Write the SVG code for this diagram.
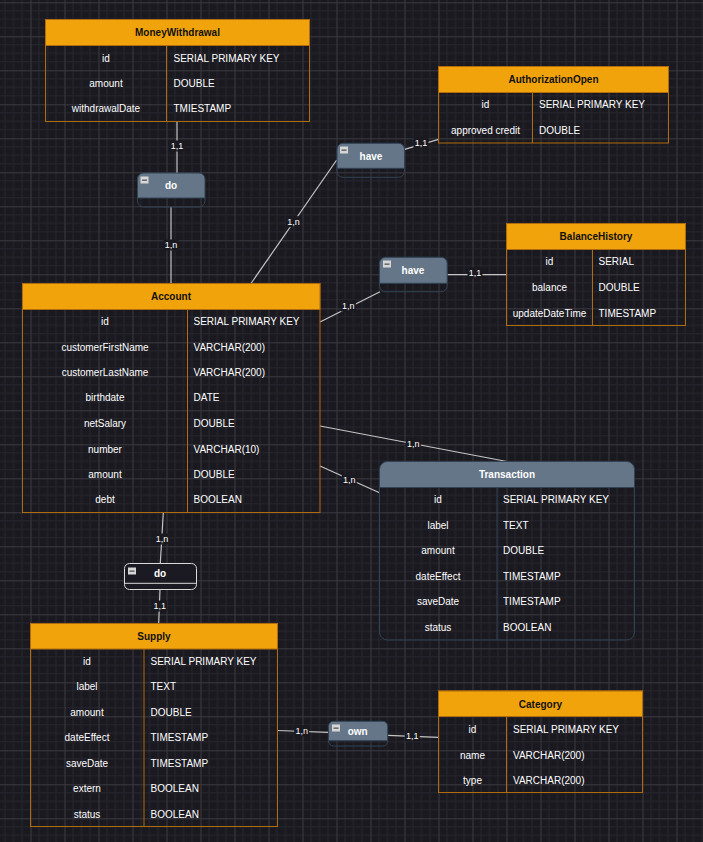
<svg xmlns="http://www.w3.org/2000/svg" width="703" height="842" viewBox="0 0 703 842">
<defs>
<pattern id="grid" x="30.5" y="2.3" width="34" height="34" patternUnits="userSpaceOnUse">
<path d="M8.5 0V34M17 0V34M25.5 0V34M0 8.5H34M0 17H34M0 25.5H34" stroke="#27262e" stroke-width="1" fill="none"/>
<path d="M0.5 0V34M0 0.5H34" stroke="#3b3a41" stroke-width="1" fill="none"/>
</pattern>
<g id="minus"><rect x="0" y="0" width="8" height="7" fill="#d6d6d6"/><rect x="1.5" y="3" width="5" height="1.3" fill="#555"/></g>
</defs>
<style>
text{font-family:"Liberation Sans",Arial,sans-serif;font-size:10px;}
.tb{fill:none;stroke:#b06b0c;stroke-width:1;}
.th{fill:#f0a30a;stroke:#b06b0c;stroke-width:1;}
.ht{font-weight:bold;fill:#111;text-anchor:middle;}
.fn{fill:#fff;text-anchor:middle;}
.ft{fill:#fff;}
.rh{fill:#647687;}
.rb{fill:none;stroke:#314354;stroke-width:1;}
.rt{font-weight:bold;fill:#fff;text-anchor:middle;}
.cn{stroke:#c4c4c4;stroke-width:1.2;fill:none;}
.lb{fill:#1a1920;}
.lt{font-size:9px;fill:#fff;text-anchor:middle;}
</style>
<rect width="703" height="842" fill="#1a1920"/>
<rect width="703" height="842" fill="url(#grid)"/>

<g id="connectors">
<line class="cn" x1="177" y1="122" x2="177" y2="173"/>
<line class="cn" x1="171" y1="207" x2="171" y2="283.5"/>
<line class="cn" x1="404.7" y1="149.3" x2="438.5" y2="139.3"/>
<line class="cn" x1="251" y1="283.5" x2="336.7" y2="160"/>
<line class="cn" x1="447.3" y1="274.7" x2="506.5" y2="274.7"/>
<line class="cn" x1="320" y1="322" x2="380" y2="291.7"/>
<line class="cn" x1="320" y1="426" x2="507" y2="461.5"/>
<line class="cn" x1="320" y1="466" x2="379.5" y2="492.7"/>
<line class="cn" x1="163.3" y1="512.5" x2="160.3" y2="563.3"/>
<line class="cn" x1="160" y1="589.3" x2="158.7" y2="623.5"/>
<line class="cn" x1="277.5" y1="730.5" x2="328.3" y2="732.3"/>
<line class="cn" x1="387.7" y1="735.3" x2="438.5" y2="737.3"/>
<rect class="lb" x="169.5" y="140.5" width="15" height="11"/><text class="lt" x="177" y="149.3">1,1</text>
<rect class="lb" x="163.5" y="239.5" width="15" height="11"/><text class="lt" x="171" y="248.3">1,n</text>
<rect class="lb" x="413.5" y="137.2" width="15" height="11"/><text class="lt" x="421" y="146">1,1</text>
<rect class="lb" x="286" y="216.2" width="15" height="11"/><text class="lt" x="293.5" y="225">1,n</text>
<rect class="lb" x="467.5" y="267.2" width="15" height="11"/><text class="lt" x="475" y="276">1,1</text>
<rect class="lb" x="340.8" y="300.5" width="15" height="11"/><text class="lt" x="348.3" y="309.3">1,n</text>
<rect class="lb" x="405.8" y="438.2" width="15" height="11"/><text class="lt" x="413.3" y="447">1,n</text>
<rect class="lb" x="341.8" y="474.5" width="15" height="11"/><text class="lt" x="349.3" y="483.3">1,n</text>
<rect class="lb" x="154.5" y="533.5" width="15" height="11"/><text class="lt" x="162" y="542.3">1,n</text>
<rect class="lb" x="152.2" y="600.5" width="15" height="11"/><text class="lt" x="159.7" y="609.3">1,1</text>
<rect class="lb" x="294.2" y="725.2" width="15" height="11"/><text class="lt" x="301.7" y="734">1,n</text>
<rect class="lb" x="404.8" y="730.2" width="15" height="11"/><text class="lt" x="412.3" y="739">1,1</text>
</g>

<g id="MoneyWithdrawal">
<rect class="tb" x="45.5" y="19.5" width="264" height="102"/>
<rect class="th" x="45.5" y="19.5" width="264" height="26"/>
<line class="tb" x1="166.5" y1="45.5" x2="166.5" y2="121.5"/>
<text class="ht" x="177.5" y="36">MoneyWithdrawal</text>
<text class="fn" x="106" y="61.5">id</text><text class="ft" x="173.5" y="61.5">SERIAL PRIMARY KEY</text>
<text class="fn" x="106" y="87">amount</text><text class="ft" x="173.5" y="87">DOUBLE</text>
<text class="fn" x="106" y="112.3">withdrawalDate</text><text class="ft" x="173.5" y="112.3">TMIESTAMP</text>
</g>

<g id="AuthorizationOpen">
<rect class="tb" x="438.5" y="66.5" width="230" height="76.5"/>
<rect class="th" x="438.5" y="66.5" width="230" height="26"/>
<line class="tb" x1="532.5" y1="92.5" x2="532.5" y2="143"/>
<text class="ht" x="553.5" y="83">AuthorizationOpen</text>
<text class="fn" x="485.5" y="108">id</text><text class="ft" x="539" y="108">SERIAL PRIMARY KEY</text>
<text class="fn" x="485.5" y="133.6">approved credit</text><text class="ft" x="539" y="133.6">DOUBLE</text>
</g>

<g id="BalanceHistory">
<rect class="tb" x="506.5" y="223.5" width="179" height="102"/>
<rect class="th" x="506.5" y="223.5" width="179" height="26"/>
<line class="tb" x1="592.5" y1="249.5" x2="592.5" y2="325.5"/>
<text class="ht" x="596" y="240">BalanceHistory</text>
<text class="fn" x="549.5" y="265.3">id</text><text class="ft" x="598.5" y="265.3">SERIAL</text>
<text class="fn" x="549.5" y="291">balance</text><text class="ft" x="598.5" y="291">DOUBLE</text>
<text class="fn" x="549.5" y="316.5">updateDateTime</text><text class="ft" x="598.5" y="316.5">TIMESTAMP</text>
</g>

<g id="Account">
<rect class="tb" x="22.5" y="283.5" width="297.5" height="229"/>
<rect class="th" x="22.5" y="283.5" width="297.5" height="26"/>
<line class="tb" x1="187.5" y1="309.5" x2="187.5" y2="512.5"/>
<text class="ht" x="171" y="300">Account</text>
<text class="fn" x="105" y="325.3">id</text><text class="ft" x="193.5" y="325.3">SERIAL PRIMARY KEY</text>
<text class="fn" x="105" y="350.5">customerFirstName</text><text class="ft" x="193.5" y="350.5">VARCHAR(200)</text>
<text class="fn" x="105" y="376">customerLastName</text><text class="ft" x="193.5" y="376">VARCHAR(200)</text>
<text class="fn" x="105" y="401.4">birthdate</text><text class="ft" x="193.5" y="401.4">DATE</text>
<text class="fn" x="105" y="427">netSalary</text><text class="ft" x="193.5" y="427">DOUBLE</text>
<text class="fn" x="105" y="452.5">number</text><text class="ft" x="193.5" y="452.5">VARCHAR(10)</text>
<text class="fn" x="105" y="478">amount</text><text class="ft" x="193.5" y="478">DOUBLE</text>
<text class="fn" x="105" y="503">debt</text><text class="ft" x="193.5" y="503">BOOLEAN</text>
</g>

<g id="Transaction">
<path class="rh" d="M379.5 487.5V469.5a8 8 0 0 1 8-8H626.5a8 8 0 0 1 8 8V487.5Z"/>
<rect class="rb" x="379.5" y="461.5" width="255" height="178.5" rx="8"/>
<line class="rb" x1="379.5" y1="487.5" x2="634.5" y2="487.5"/>
<line class="rb" x1="497" y1="487.5" x2="497" y2="640"/>
<text class="rt" x="507" y="478">Transaction</text>
<text class="fn" x="438" y="503">id</text><text class="ft" x="503" y="503">SERIAL PRIMARY KEY</text>
<text class="fn" x="438" y="529.3">label</text><text class="ft" x="503" y="529.3">TEXT</text>
<text class="fn" x="438" y="554.4">amount</text><text class="ft" x="503" y="554.4">DOUBLE</text>
<text class="fn" x="438" y="580.3">dateEffect</text><text class="ft" x="503" y="580.3">TIMESTAMP</text>
<text class="fn" x="438" y="605.3">saveDate</text><text class="ft" x="503" y="605.3">TIMESTAMP</text>
<text class="fn" x="438" y="631">status</text><text class="ft" x="503" y="631">BOOLEAN</text>
</g>

<g id="Supply">
<rect class="tb" x="30.5" y="623.5" width="247" height="203"/>
<rect class="th" x="30.5" y="623.5" width="247" height="25.5"/>
<line class="tb" x1="144" y1="649" x2="144" y2="826.5"/>
<text class="ht" x="154" y="640">Supply</text>
<text class="fn" x="87" y="665.3">id</text><text class="ft" x="150.5" y="665.3">SERIAL PRIMARY KEY</text>
<text class="fn" x="87" y="690.3">label</text><text class="ft" x="150.5" y="690.3">TEXT</text>
<text class="fn" x="87" y="716.3">amount</text><text class="ft" x="150.5" y="716.3">DOUBLE</text>
<text class="fn" x="87" y="741.3">dateEffect</text><text class="ft" x="150.5" y="741.3">TIMESTAMP</text>
<text class="fn" x="87" y="767.3">saveDate</text><text class="ft" x="150.5" y="767.3">TIMESTAMP</text>
<text class="fn" x="87" y="792.3">extern</text><text class="ft" x="150.5" y="792.3">BOOLEAN</text>
<text class="fn" x="87" y="818">status</text><text class="ft" x="150.5" y="818">BOOLEAN</text>
</g>

<g id="Category">
<rect class="tb" x="438.5" y="691" width="204" height="101.5"/>
<rect class="th" x="438.5" y="691" width="204" height="25.5"/>
<line class="tb" x1="506.5" y1="716.5" x2="506.5" y2="792.5"/>
<text class="ht" x="540.5" y="708">Category</text>
<text class="fn" x="472.5" y="733.3">id</text><text class="ft" x="513" y="733.3">SERIAL PRIMARY KEY</text>
<text class="fn" x="472.5" y="758.7">name</text><text class="ft" x="513" y="758.7">VARCHAR(200)</text>
<text class="fn" x="472.5" y="784">type</text><text class="ft" x="513" y="784">VARCHAR(200)</text>
</g>

<g id="rel-do-withdrawal">
<path class="rh" d="M137.5 198V179a6 6 0 0 1 6-6H199a6 6 0 0 1 6 6V198Z"/>
<rect class="rb" x="137.5" y="173" width="67.5" height="34" rx="6"/>
<line class="rb" x1="137.5" y1="198" x2="205" y2="198"/>
<use href="#minus" x="140.5" y="176.5"/>
<text class="rt" x="171" y="188.5">do</text>
</g>

<g id="rel-have-authorization">
<path class="rh" d="M337 168.3V149.3a6 6 0 0 1 6-6H398.5a6 6 0 0 1 6 6V168.3Z"/>
<rect class="rb" x="337" y="143.3" width="67.5" height="34" rx="6"/>
<line class="rb" x1="337" y1="168.3" x2="404.5" y2="168.3"/>
<use href="#minus" x="340" y="146.5"/>
<text class="rt" x="371" y="159.5">have</text>
</g>

<g id="rel-have-balance">
<path class="rh" d="M379.5 283.3V263.3a6 6 0 0 1 6-6H441.2a6 6 0 0 1 6 6V283.3Z"/>
<rect class="rb" x="379.5" y="257.3" width="67.7" height="34.4" rx="6"/>
<line class="rb" x1="379.5" y1="283.3" x2="447.2" y2="283.3"/>
<use href="#minus" x="383" y="260.5"/>
<text class="rt" x="413" y="274.2">have</text>
</g>

<g id="rel-do-supply">
<rect x="124.5" y="563.5" width="72" height="26" rx="5" fill="#1b1a22" stroke="#d9d9d9" stroke-width="1"/>
<line x1="124.5" y1="583.3" x2="196.5" y2="583.3" stroke="#d9d9d9" stroke-width="1"/>
<use href="#minus" x="128" y="567.5"/>
<text class="rt" x="160" y="577">do</text>
</g>

<g id="rel-own">
<path class="rh" d="M328.5 740.7V726.3a5 5 0 0 1 5-5H382.7a5 5 0 0 1 5 5V740.7Z"/>
<rect class="rb" x="328.5" y="721.3" width="59.2" height="24.7" rx="5"/>
<line class="rb" x1="328.5" y1="740.7" x2="387.7" y2="740.7"/>
<use href="#minus" x="332" y="724.5"/>
<text class="rt" x="357.7" y="734.8">own</text>
</g>
</svg>
